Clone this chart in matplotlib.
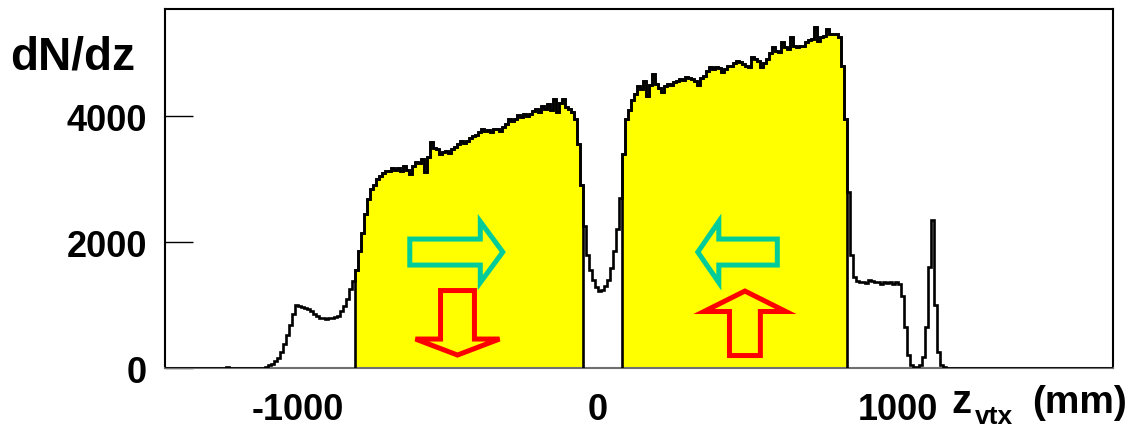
import numpy as np
import matplotlib.pyplot as plt
from matplotlib.patches import FancyArrow

plt.rcParams['font.family'] = ['Liberation Sans', 'DejaVu Sans']
plt.rcParams['font.weight'] = 'bold'

# z vertex histogram, 10 mm bins starting at -1450 mm
bin_start = -1450
bin_width = 10
counts = [
    0, 0, 0, 0, 0, 0, 0, 0, 0, 0,                               # -1450
    0, 0, 0, 0, 0, 0, 0, 0, 0, 0,                               # -1350
    0, 15, 0, 0, 0, 0, 0, 0, 0, 0,                              # -1250
    0, 0, 0, 0, 20, 40, 70, 110, 160, 260,                      # -1150
    380, 520, 680, 860, 1000, 990, 970, 960, 930, 900,          # -1050
    850, 830, 800, 790, 780, 800, 790, 810, 830, 900,           # -950
    980, 1100, 1250, 1380, 1550, 1850, 2150, 2450, 2680, 2840,  # -850
    2900, 3000, 3050, 3100, 3130, 3120, 3170, 3140, 3180, 3120,  # -750
    3200, 3150, 3080, 3200, 3270, 3250, 3320, 3110, 3350, 3590,  # -650
    3500, 3480, 3400, 3430, 3450, 3420, 3480, 3510, 3560, 3600,  # -550
    3580, 3610, 3650, 3680, 3700, 3740, 3800, 3760, 3780, 3750,  # -450
    3800, 3790, 3760, 3830, 3880, 3950, 3920, 3960, 4020, 3980,  # -350
    4040, 4000, 4030, 4080, 4110, 4060, 4160, 4120, 4190, 4100,  # -250
    4270, 4060, 4200, 4270, 4150, 4120, 4060, 3950, 3550, 2900,  # -150
    2250, 1800, 1550, 1400, 1280, 1220, 1240, 1300, 1400, 1580,  # -50
    1850, 2200, 2700, 3400, 3950, 4100, 4250, 4350, 4480, 4430,  # 50
    4550, 4320, 4500, 4660, 4510, 4450, 4380, 4480, 4510, 4500,  # 150
    4540, 4560, 4590, 4570, 4620, 4600, 4590, 4560, 4500, 4600,  # 250
    4640, 4720, 4780, 4740, 4780, 4760, 4700, 4750, 4790, 4800,  # 350
    4840, 4870, 4860, 4820, 4790, 4780, 4930, 4900, 4870, 4780,  # 450
    4850, 4900, 5000, 5090, 5030, 5020, 5170, 5100, 5060, 5250,  # 550
    5120, 5090, 5110, 5120, 5170, 5200, 5220, 5410, 5190, 5250,  # 650
    5270, 5380, 5300, 5310, 5300, 5250, 4800, 3950, 2800, 1800,  # 750
    1450, 1380, 1360, 1370, 1350, 1400, 1380, 1360, 1370, 1340,  # 850
    1360, 1350, 1370, 1330, 1360, 1340, 1150, 650, 200, 50,      # 950
    10, 10, 40, 180, 650, 1600, 2350, 1000, 250, 40,             # 1050
    10, 0, 0, 0, 0, 0, 0, 0, 0, 0,                               # 1150
    0, 0, 0, 0, 0, 0, 0, 0, 0, 0,                                # 1250
    0, 0, 0, 0, 0, 0, 0, 0, 0, 0,                                # 1350
    0, 0, 0, 0, 0, 0, 0, 0, 0, 0,                                # 1450
    0, 0, 0, 0, 0, 0, 0, 0, 0, 0,                                # 1550
    0, 0, 0, 0, 0, 0, 0,                                         # 1650
]

# selected vertex ranges (yellow)
cut_minus = (-810, -50)
cut_plus = (80, 830)

x_ticks = [-1000, 0, 1000]
y_ticks = [0, 2000, 4000]

counts = np.array(counts, dtype=float)
edges = bin_start + bin_width * np.arange(len(counts) + 1)

fig = plt.figure(figsize=(11.26, 4.27), dpi=100)
ax = fig.add_axes([0.1465, 0.1358, 0.8420, 0.8408])

lw = 1.9
for lo, hi in (cut_minus, cut_plus):
    sel = (edges[:-1] >= lo) & (edges[1:] <= hi)
    e_sel = np.append(edges[:-1][sel], edges[1:][sel][-1])
    ax.stairs(counts[sel], e_sel, fill=True, color='#ffff00', zorder=1)
    ax.stairs(counts[sel], e_sel, baseline=0, color='black', lw=lw, zorder=3)

ax.stairs(counts, edges, baseline=None, color='black', lw=lw, zorder=3)

# beam direction arrows (cyan) and polarisation arrows (red)
arrow_kw = dict(fill=False, lw=3.6, length_includes_head=True, zorder=4)
ax.add_patch(FancyArrow(-627, 1841, 310, 0, width=413, head_width=968,
                        head_length=75, edgecolor='#00cc99', **arrow_kw))
ax.add_patch(FancyArrow(598, 1841, -265, 0, width=413, head_width=968,
                        head_length=70, edgecolor='#00cc99', **arrow_kw))
ax.add_patch(FancyArrow(-468, 1230, 0, -1024, width=113, head_width=280,
                        head_length=254, edgecolor='#ff0000', **arrow_kw))
ax.add_patch(FancyArrow(490, 198, 0, 1024, width=103, head_width=273,
                        head_length=325, edgecolor='#ff0000', **arrow_kw))

ax.set_xlim(-1443, 1717)
ax.set_ylim(0, 5700)

ax.set_xticks(x_ticks)
ax.set_xticklabels([str(t) for t in x_ticks], fontsize=26, fontweight='bold')
ax.set_yticks(y_ticks)
ax.set_yticklabels([str(t) for t in y_ticks], fontsize=26, fontweight='bold')
ax.tick_params(axis='x', length=0, pad=17)
ax.tick_params(axis='y', direction='in', length=20, width=1, pad=13)

for side in ['left', 'top', 'right']:
    ax.spines[side].set_linewidth(1.5)
ax.spines['bottom'].set_color('#707070')
ax.spines['bottom'].set_linewidth(1.5)

fig.text(10 / 1126, 1 - 70 / 427, 'dN/dz', fontsize=33, fontweight='bold',
         ha='left', va='baseline')
# axis title z_vtx (mm), subscript set lower and smaller
fig.text(951 / 1126, 1 - 413 / 427, 'z', fontsize=29, fontweight='bold',
         ha='left', va='baseline')
fig.text(975 / 1126, 1 - 424 / 427, 'vtx', fontsize=19, fontweight='bold',
         ha='left', va='baseline')
fig.text(1032 / 1126, 1 - 413 / 427, '(mm)', fontsize=28, fontweight='bold',
         ha='left', va='baseline')

fig.savefig('out.png', dpi=100)
